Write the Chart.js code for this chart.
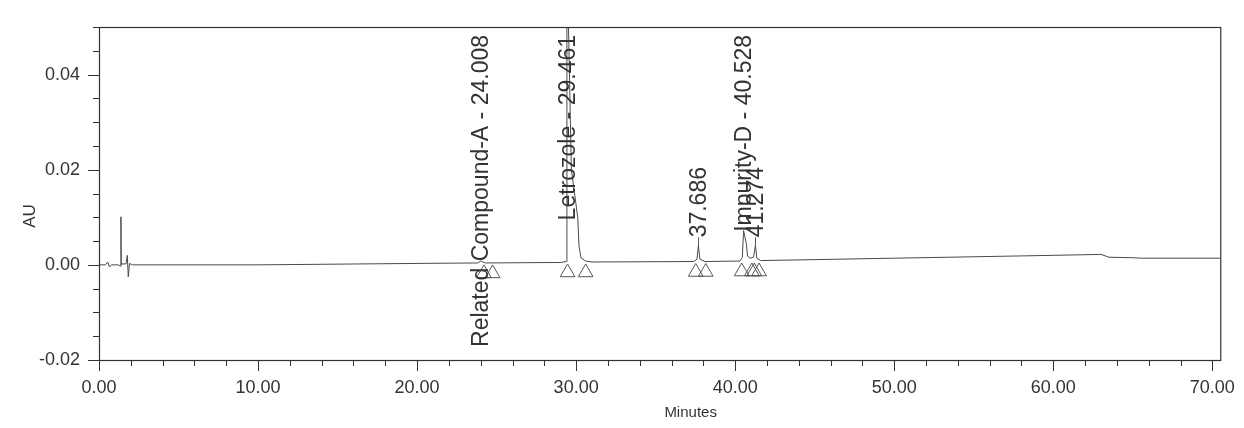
<!DOCTYPE html>
<html>
<head>
<meta charset="utf-8">
<script src="https://cdn.jsdelivr.net/npm/chart.js@4.4.1/dist/chart.umd.min.js"></script>
<style>
  html, body { margin: 0; padding: 0; background: #ffffff; }
  #wrap { width: 1244px; height: 428px; }
</style>
</head>
<body>
<div id="wrap"><canvas id="chromChart" width="1244" height="428"></canvas></div>
<script>
// chromatogram trace (minutes, AU)
var traceTimes = [0.00, 0.40, 0.55, 0.65, 0.80, 1.20, 1.36, 1.38, 1.40, 1.45, 1.70, 1.78, 1.84, 1.92, 2.10,
    10.0, 20.0, 23.8, 24.0, 24.3, 29.0, 29.38, 29.42, 29.461, 29.52, 29.70, 30.10, 30.18, 30.30, 30.60, 31.0,
    37.40, 37.60, 37.686, 37.78, 38.10, 40.30, 40.45, 40.528, 40.70, 40.78, 40.95, 41.15, 41.274, 41.36, 41.60,
    45.0, 50.0, 55.0, 60.0, 63.0, 63.5, 65.0, 65.6, 70.5];
var traceAU = [0.0000, 0.0000, 0.0006, -0.0004, 0.0000, 0.0000, -0.0003, 0.0101, 0.0000, 0.0002, 0.0002, 0.0020, -0.0025, 0.0003, 0.0000,
    0.0000, 0.0003, 0.0004, 0.0008, 0.0004, 0.0005, 0.0007, 0.0500, 0.1500, 0.0500, 0.0200, 0.0100, 0.0040, 0.0015, 0.0008, 0.0006,
    0.0007, 0.0012, 0.0041, 0.0012, 0.0007, 0.0008, 0.0016, 0.0072, 0.0045, 0.0018, 0.0014, 0.0016, 0.0041, 0.0014, 0.0009,
    0.0011, 0.0014, 0.0017, 0.0020, 0.0022, 0.0016, 0.0015, 0.0014, 0.0014];

// named peaks
var peakNames = ['Related Compound-A', 'Letrozole', '', 'Impurity-D', ''];
var peakTimes = [24.008, 29.461, 37.686, 40.528, 41.274];

// integration start / end markers
var markerTimes = [24.20, 24.75, 29.46, 30.60, 37.52, 38.15, 40.41, 41.05, 41.20, 41.50];
var markerAU = [-0.0018, -0.0018, -0.0016, -0.0016, -0.0015, -0.0015, -0.0014, -0.0014, -0.0014, -0.0014];

var inkColor = '#333333';
var fontFamily = '"Liberation Sans", Arial, sans-serif';

var chromPlugin = {
    id: 'chromDecor',
    afterDraw: function(chart) {
        var ctx = chart.ctx;
        var area = chart.chartArea;
        var xs = chart.scales.x;
        var ys = chart.scales.y;
        ctx.save();

        // frame
        ctx.strokeStyle = '#333';
        ctx.lineWidth = 1.2;
        ctx.strokeRect(area.left + 0.5, area.top + 0.5, area.right - area.left, area.bottom - area.top);

        // tick marks, long ones where there is a label
        ctx.lineWidth = 1;
        ctx.beginPath();
        xs.ticks.forEach(function(t) {
            var px = Math.round(xs.getPixelForValue(t.value)) + 0.5;
            var len = Math.abs(t.value % 10) < 1e-6 ? 11 : 6;
            ctx.moveTo(px, area.bottom);
            ctx.lineTo(px, area.bottom + len);
        });
        ys.ticks.forEach(function(t) {
            var py = Math.round(ys.getPixelForValue(t.value)) + 0.5;
            var len = Math.abs(Math.round(t.value * 1000) % 20) === 0 ? 11 : 6;
            ctx.moveTo(area.left, py);
            ctx.lineTo(area.left - len, py);
        });
        ctx.stroke();

        // axis titles
        ctx.fillStyle = inkColor;
        ctx.font = '15px ' + fontFamily;
        ctx.textAlign = 'center';
        ctx.textBaseline = 'middle';
        ctx.fillText('Minutes', (area.left + area.right) / 2 + 31, 413);
        ctx.save();
        ctx.font = '17px ' + fontFamily;
        ctx.translate(30, 216);
        ctx.rotate(-Math.PI / 2);
        ctx.fillText('AU', 0, 0);
        ctx.restore();

        // vertical peak labels
        ctx.font = '23px ' + fontFamily;
        ctx.textAlign = 'left';
        peakTimes.forEach(function(pt, i) {
            var apex = -1;
            traceTimes.forEach(function(t, j) {
                if (Math.abs(t - pt) < 0.15 && traceAU[j] > apex) apex = traceAU[j];
            });
            var apexY = ys.getPixelForValue(Math.min(apex, ys.max));
            var text = (peakNames[i] ? peakNames[i] + ' - ' : '') + pt.toFixed(3);
            var len = ctx.measureText(text).width;
            var startY = apexY - 8;
            if (startY - len < area.top + 8) startY = area.top + 8 + len;
            var px = xs.getPixelForValue(pt);
            if (startY < apexY - 1) {
                ctx.beginPath();
                ctx.strokeStyle = '#555';
                ctx.moveTo(Math.round(px) + 0.5, apexY);
                ctx.lineTo(Math.round(px) + 0.5, startY);
                ctx.stroke();
            }
            ctx.save();
            ctx.translate(px + 1, startY);
            ctx.rotate(-Math.PI / 2);
            ctx.textBaseline = 'middle';
            ctx.fillText(text, 0, 0);
            ctx.restore();
        });
        ctx.restore();
    }
};

var tracePoints = traceTimes.map(function(t, i) { return { x: t, y: traceAU[i] }; });
var markerPoints = markerTimes.map(function(t, i) { return { x: t, y: markerAU[i] }; });

var ctx = document.getElementById('chromChart').getContext('2d');
var chromChart = new Chart(ctx, {
    type: 'line',
    data: {
        datasets: [{
            label: 'Trace',
            data: tracePoints,
            borderColor: '#4a4a4a',
            borderWidth: 1,
            pointRadius: 0,
            tension: 0,
            fill: false
        }, {
            label: 'Markers',
            data: markerPoints,
            showLine: false,
            pointStyle: 'triangle',
            pointRadius: 8.5,
            pointBackgroundColor: 'rgba(0,0,0,0)',
            pointBorderColor: '#555',
            pointBorderWidth: 1
        }]
    },
    options: {
        responsive: false,
        animation: false,
        layout: { padding: { left: 0, top: 27, right: 22, bottom: 0 } },
        plugins: {
            legend: { display: false },
            tooltip: { enabled: false }
        },
        scales: {
            x: {
                type: 'linear',
                min: 0,
                max: 70.5,
                grid: { display: false },
                border: { display: false },
                afterFit: function(scale) { scale.height = 68; },
                ticks: {
                    stepSize: 2,
                    includeBounds: false,
                    autoSkip: false,
                    maxRotation: 0,
                    padding: 9,
                    color: inkColor,
                    font: { family: fontFamily, size: 18 },
                    callback: function(v) { return Math.abs(v % 10) < 1e-6 ? v.toFixed(2) : ''; }
                }
            },
            y: {
                type: 'linear',
                min: -0.02,
                max: 0.05,
                grid: { display: false },
                border: { display: false },
                afterFit: function(scale) { scale.width = 99; },
                ticks: {
                    stepSize: 0.005,
                    includeBounds: false,
                    autoSkip: false,
                    padding: 11,
                    color: inkColor,
                    font: { family: fontFamily, size: 18 },
                    callback: function(v) {
                        return Math.abs(Math.round(v * 1000) % 20) === 0 ? (Math.round(v * 100) / 100 + 0).toFixed(2) : '';
                    }
                }
            }
        }
    },
    plugins: [chromPlugin]
});
</script>
</body>
</html>
